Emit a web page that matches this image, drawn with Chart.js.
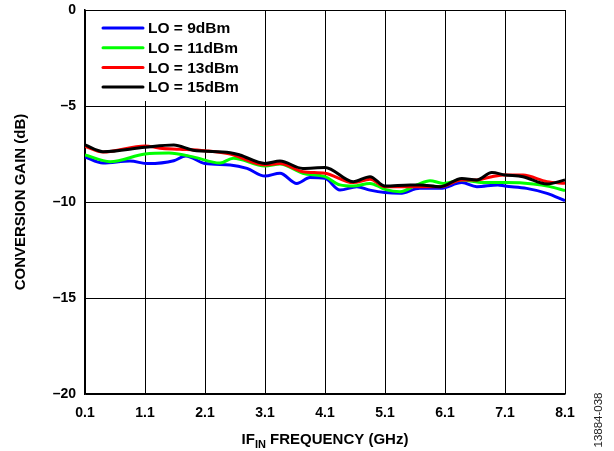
<!DOCTYPE html>
<html>
<head>
<meta charset="utf-8">
<script src="https://cdn.jsdelivr.net/npm/chart.js@4/dist/chart.umd.min.js"></script>
<style>
  html, body { margin: 0; padding: 0; background: #fff; }
  #wrap { width: 614px; height: 451px; position: relative; }
</style>
</head>
<body>
<div id="wrap"><canvas id="gainChart" width="614" height="451"></canvas></div>
<script>
// values (GHz, dB)
const xTicks = [0.1, 1.1, 2.1, 3.1, 4.1, 5.1, 6.1, 7.1, 8.1];
const yTicks = [0, -5, -10, -15, -20];

const freqLo9 = [0.1, 0.4, 0.85, 1.15, 1.58, 1.78, 2.1, 2.52, 2.8, 3.1, 3.35, 3.63, 3.85, 4.1, 4.35, 4.63, 4.85, 5.1, 5.35, 5.68, 6.02, 6.38, 6.63, 6.98, 7.1, 7.46, 7.8, 8.1];
const gainLo9 = [-7.65, -7.97, -7.87, -8.0, -7.85, -7.6, -8.0, -8.07, -8.25, -8.65, -8.5, -9.03, -8.73, -8.77, -9.38, -9.2, -9.38, -9.51, -9.55, -9.29, -9.29, -8.99, -9.2, -9.11, -9.17, -9.29, -9.55, -9.93];

const freqLo11 = [0.1, 0.52, 1.1, 1.5, 1.9, 2.35, 2.57, 3.1, 3.35, 3.73, 4.1, 4.35, 4.57, 4.85, 5.1, 5.35, 5.63, 5.85, 6.07, 6.38, 6.73, 7.1, 7.57, 7.85, 8.1];
const gainLo11 = [-7.55, -7.9, -7.5, -7.45, -7.65, -7.97, -7.72, -8.12, -8.02, -8.5, -8.68, -9.11, -9.17, -9.03, -9.34, -9.46, -9.11, -8.89, -9.03, -8.85, -8.99, -8.99, -9.06, -9.2, -9.41];

const freqLo13 = [0.1, 0.4, 1.1, 1.35, 1.68, 2.1, 2.52, 3.1, 3.35, 3.73, 4.1, 4.57, 4.85, 5.1, 5.52, 5.68, 6.02, 6.38, 6.63, 6.88, 7.1, 7.4, 7.8, 8.1];
const gainLo13 = [-7.1, -7.4, -7.08, -7.2, -7.25, -7.33, -7.5, -8.07, -7.99, -8.42, -8.5, -8.99, -8.82, -9.2, -9.2, -9.2, -9.2, -8.85, -8.85, -8.68, -8.59, -8.6, -8.94, -9.03];

const freqLo15 = [0.1, 0.4, 1.1, 1.58, 1.9, 2.52, 2.68, 3.1, 3.35, 3.73, 4.1, 4.57, 4.85, 5.1, 5.52, 5.68, 6.02, 6.38, 6.63, 6.88, 7.1, 7.4, 7.8, 8.1];
const gainLo15 = [-7.03, -7.38, -7.15, -7.03, -7.3, -7.43, -7.55, -7.99, -7.87, -8.25, -8.2, -8.94, -8.68, -9.17, -9.11, -9.11, -9.2, -8.77, -8.85, -8.47, -8.59, -8.68, -9.06, -8.85];

const seriesLabels = ['LO = 9dBm', 'LO = 11dBm', 'LO = 13dBm', 'LO = 15dBm'];
const seriesColors = ['#0000ff', '#00ff00', '#ff0000', '#000000'];

const FONT = '"Liberation Sans", Arial, Helvetica, sans-serif';

function toPoints(xs, ys) {
    return xs.map((x, i) => ({ x: x, y: ys[i] }));
}

function makeSet(i, xs, ys) {
    return {
        label: seriesLabels[i],
        data: toPoints(xs, ys),
        borderColor: seriesColors[i],
        backgroundColor: seriesColors[i],
        borderWidth: 3,
        pointRadius: 0,
        fill: false,
        cubicInterpolationMode: 'monotone',
        order: 3 - i
    };
}

// legend box, axis titles and the figure number
const decorPlugin = {
    id: 'decor',
    afterDraw(chart) {
        const ctx = chart.ctx;
        const area = chart.chartArea;
        ctx.save();

        // legend
        ctx.fillStyle = '#fff';
        ctx.fillRect(area.left + 1, area.top + 1, 168, 90);
        chart.data.datasets.forEach((ds, i) => {
            const y = area.top + 18 + i * 19.7;
            ctx.strokeStyle = ds.borderColor;
            ctx.lineWidth = 3;
            ctx.lineCap = 'round';
            ctx.beginPath();
            ctx.moveTo(area.left + 18, y);
            ctx.lineTo(area.left + 58, y);
            ctx.stroke();
            ctx.fillStyle = '#000';
            ctx.font = 'bold 15.5px ' + FONT;
            ctx.textAlign = 'left';
            ctx.textBaseline = 'middle';
            ctx.fillText(ds.label, area.left + 63, y + 1);
        });

        // x title with subscript
        ctx.fillStyle = '#000';
        ctx.textBaseline = 'alphabetic';
        const big = 'bold 15px ' + FONT;
        const small = 'bold 11px ' + FONT;
        ctx.font = big;
        const w1 = ctx.measureText('IF').width;
        const w3 = ctx.measureText(' FREQUENCY (GHz)').width;
        ctx.font = small;
        const w2 = ctx.measureText('IN').width;
        let x = (area.left + area.right) / 2 - (w1 + w2 + w3) / 2;
        const base = 444;
        ctx.textAlign = 'left';
        ctx.font = big;
        ctx.fillText('IF', x, base);
        x += w1;
        ctx.font = small;
        ctx.fillText('IN', x, base + 4);
        x += w2;
        ctx.font = big;
        ctx.fillText(' FREQUENCY (GHz)', x, base);

        // y title
        ctx.save();
        ctx.translate(21, (area.top + area.bottom) / 2);
        ctx.rotate(-Math.PI / 2);
        ctx.textAlign = 'center';
        ctx.textBaseline = 'middle';
        ctx.font = big;
        ctx.fillText('CONVERSION GAIN (dB)', 0, 0);
        ctx.restore();

        // figure number
        ctx.save();
        ctx.translate(599, 420);
        ctx.rotate(-Math.PI / 2);
        ctx.textAlign = 'center';
        ctx.textBaseline = 'middle';
        ctx.fillStyle = '#222';
        ctx.font = '11.5px ' + FONT;
        ctx.fillText('13884-038', 0, 0);
        ctx.restore();

        ctx.restore();
    }
};

const ctx = document.getElementById('gainChart').getContext('2d');
new Chart(ctx, {
    type: 'line',
    data: {
        datasets: [
            makeSet(0, freqLo9, gainLo9),
            makeSet(1, freqLo11, gainLo11),
            makeSet(2, freqLo13, gainLo13),
            makeSet(3, freqLo15, gainLo15)
        ]
    },
    options: {
        responsive: false,
        animation: false,
        events: [],
        layout: { padding: { left: 0, right: 49, top: 10, bottom: 0 } },
        plugins: {
            legend: { display: false },
            tooltip: { enabled: false }
        },
        scales: {
            x: {
                type: 'linear',
                min: 0.1,
                max: 8.1,
                afterBuildTicks: (scale) => { scale.ticks = xTicks.map(v => ({ value: v })); },
                afterFit: (scale) => { scale.height = 57; },
                grid: { color: '#000', lineWidth: 1, drawTicks: false },
                border: { color: '#000', width: 1.5 },
                ticks: {
                    padding: 11,
                    color: '#000',
                    maxRotation: 0,
                    autoSkip: false,
                    font: { family: FONT, size: 14, weight: 'bold' },
                    callback: (v) => Number(v).toFixed(1)
                }
            },
            y: {
                min: -20,
                max: 0,
                afterBuildTicks: (scale) => { scale.ticks = yTicks.map(v => ({ value: v })); },
                afterFit: (scale) => {
                    scale.width = 85;
                    scale.paddingTop = 0;
                    scale.paddingBottom = 0;
                },
                grid: { color: '#000', lineWidth: 1, drawTicks: false },
                border: { color: '#000', width: 1.5 },
                ticks: {
                    padding: 9,
                    color: '#000',
                    font: { family: FONT, size: 14, weight: 'bold' },
                    callback: (v) => v < 0 ? '\u2013' + Math.abs(v) : String(v)
                }
            }
        }
    },
    plugins: [decorPlugin]
});
</script>
</body>
</html>
